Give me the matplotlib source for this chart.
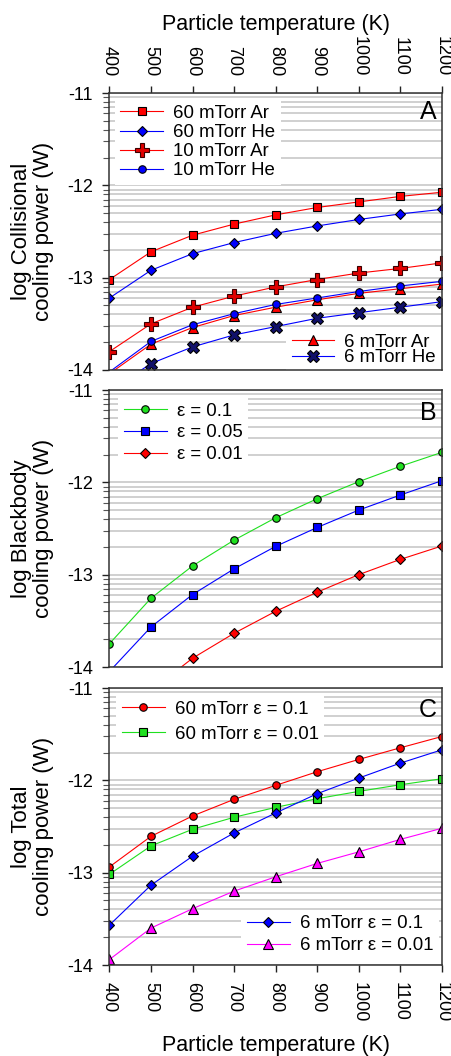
import numpy as np
import matplotlib
matplotlib.use("Agg")
import matplotlib.pyplot as plt
from matplotlib.ticker import FixedLocator, NullFormatter

plt.rcParams['font.family'] = ['Liberation Sans', 'DejaVu Sans']

# Particle temperature (K)
temperature = [400, 500, 600, 700, 800, 900, 1000, 1100, 1200]
temp_ticks = [400, 500, 600, 700, 800, 900, 1000, 1100, 1200]
power_ticks = [-14, -13, -12, -11]

# log10 collisional cooling power (W)
coll_60_ar = [-13.02, -12.72, -12.54, -12.42, -12.32, -12.24, -12.18, -12.12, -12.075]
coll_60_he = [-13.22, -12.92, -12.74, -12.62, -12.52, -12.44, -12.37, -12.31, -12.26]
coll_10_ar = [-13.80, -13.50, -13.32, -13.20, -13.10, -13.02, -12.95, -12.90, -12.84]
coll_10_he = [-14.02, -13.69, -13.51, -13.39, -13.29, -13.22, -13.15, -13.09, -13.04]
coll_6_ar = [-14.04, -13.72, -13.54, -13.41, -13.32, -13.24, -13.17, -13.12, -13.07]
coll_6_he = [-14.23, -13.93, -13.75, -13.62, -13.53, -13.44, -13.38, -13.32, -13.26]

# log10 blackbody cooling power (W)
bb_eps_010 = [-13.747, -13.255, -12.905, -12.626, -12.384, -12.178, -11.993, -11.827, -11.676]
bb_eps_005 = [-14.048, -13.566, -13.215, -12.937, -12.694, -12.489, -12.301, -12.138, -11.983]
bb_eps_001 = [-14.747, -14.255, -13.905, -13.635, -13.397, -13.190, -13.000, -12.835, -12.690]

# log10 total cooling power (W)
tot_60_eps_010 = [-12.937, -12.606, -12.386, -12.206, -12.055, -11.907, -11.774, -11.648, -11.526]
tot_60_eps_001 = [-13.017, -12.710, -12.530, -12.400, -12.293, -12.199, -12.120, -12.048, -11.983]
tot_6_eps_010 = [-13.567, -13.135, -12.822, -12.570, -12.354, -12.145, -11.976, -11.814, -11.670]
tot_6_eps_001 = [-13.940, -13.600, -13.390, -13.200, -13.045, -12.900, -12.775, -12.640, -12.520]

YMIN, YMAX = -14, -11
RED, BLUE, GREEN, MAGENTA = '#ff0000', '#0000ff', '#1fe01f', '#ff00ff'
LEGEND_FS = 13.4

fig = plt.figure(figsize=(4.52, 10.56), dpi=100)
W, H = 452.0, 1056.0
left_px, right_px = 109.5, 441.7
panels_px = [(93, 370), (390, 667), (688, 965)]
axes = []
for top, bot in panels_px:
    ax = fig.add_axes([left_px / W, 1 - bot / H, (right_px - left_px) / W, (bot - top) / H])
    axes.append(ax)

minor_pos = [d + np.log10(k) for d in range(-14, -11) for k in range(2, 10)]


def style_axis(ax, ylabel, letter, letter_y, top_ticks=False, bottom_ticks=False):
    ax.set_xlim(400, 1200)
    ax.set_ylim(YMIN, YMAX)
    ax.set_axisbelow(True)
    ax.yaxis.set_major_locator(FixedLocator(power_ticks))
    ax.yaxis.set_minor_locator(FixedLocator(minor_pos))
    ax.yaxis.set_minor_formatter(NullFormatter())
    ax.set_yticklabels([str(v) for v in power_ticks])
    ax.grid(True, which='both', axis='y', color='#cdcdcd', lw=1.3)
    ax.tick_params(axis='y', which='major', direction='out', length=5, width=1.0,
                   labelsize=13, pad=7, colors='#222222', labelcolor='black')
    ax.tick_params(axis='y', which='minor', direction='out', length=4, width=0.8,
                   colors='#555555')
    ax.xaxis.set_major_locator(FixedLocator(temp_ticks))
    ax.tick_params(axis='x', which='both', top=top_ticks, labeltop=top_ticks,
                   bottom=bottom_ticks, labelbottom=bottom_ticks,
                   direction='out', length=5, width=1.0, labelsize=13,
                   labelrotation=-90, pad=7, colors='#222222', labelcolor='black')
    ax.xaxis.set_minor_locator(FixedLocator([]))
    for s in ax.spines.values():
        s.set_color('#333333')
        s.set_linewidth(1.1)
    ax.text(-0.232, 0.5, ylabel, transform=ax.transAxes, rotation=90,
            ha='center', va='center', fontsize=16, linespacing=1.1,
            multialignment='center')
    ax.text(0.986, letter_y, letter, transform=ax.transAxes, ha='right',
            va='baseline', fontsize=18)


def series(ax, y, color, marker, ms, face=None, edge='black', label=None):
    shown = [i for i, v in enumerate(y) if v > YMIN]
    ax.plot(temperature, y, color=color, lw=0.8, marker=marker, ms=ms,
            mfc=face if face else color, mec=edge, mew=0.8,
            markevery=shown, label=label, zorder=2)


def make_legend(ax, handles, labels, loc, anchor, spacing):
    leg = ax.legend(handles, labels, loc=loc, bbox_to_anchor=anchor,
                    borderaxespad=0, borderpad=0.3, fontsize=LEGEND_FS,
                    handlelength=2.3, handletextpad=0.54, labelspacing=spacing,
                    frameon=True, fancybox=False, framealpha=1,
                    facecolor='white', edgecolor='none')
    leg.set_zorder(2.3)
    return leg


# Panel A: collisional cooling
ax = axes[0]
style_axis(ax, 'log Collisional\ncooling power (W)', 'A', 0.905, top_ticks=True)
series(ax, coll_6_ar, RED, '^', 6.5, label='6 mTorr Ar')
series(ax, coll_6_he, BLUE, 'X', 9.0, face='#10106a', edge='black', label='6 mTorr He')
series(ax, coll_60_ar, RED, 's', 5.5, label='60 mTorr Ar')
series(ax, coll_60_he, BLUE, 'D', 4.8, label='60 mTorr He')
series(ax, coll_10_ar, RED, 'P', 9.4, face='#e00000', edge='#3a0000', label='10 mTorr Ar')
series(ax, coll_10_he, BLUE, 'o', 5.4, label='10 mTorr He')
h, l = ax.get_legend_handles_labels()
hd = dict(zip(l, h))
top_keys = ['60 mTorr Ar', '60 mTorr He', '10 mTorr Ar', '10 mTorr He']
bot_keys = ['6 mTorr Ar', '6 mTorr He']
leg1 = make_legend(ax, [hd[k] for k in top_keys], top_keys, 'upper left', (0.0154, 0.977), 0.11)
ax.add_artist(leg1)
make_legend(ax, [hd[k] for k in bot_keys], bot_keys, 'lower right', (1.0, -0.007), -0.065)
ax.xaxis.set_label_position('top')
ax.set_xlabel('Particle temperature (K)', fontsize=15.5, labelpad=4)

# Panel B: blackbody cooling
ax = axes[1]
style_axis(ax, 'log Blackbody\ncooling power (W)', 'B', 0.893)
series(ax, bb_eps_010, GREEN, 'o', 5.4, label='ε = 0.1')
series(ax, bb_eps_005, BLUE, 's', 5.5, label='ε = 0.05')
series(ax, bb_eps_001, RED, 'D', 4.8, label='ε = 0.01')
h, l = ax.get_legend_handles_labels()
make_legend(ax, h, l, 'upper left', (0.027, 0.974), 0.25)

# Panel C: total cooling
ax = axes[2]
style_axis(ax, 'log Total\ncooling power (W)', 'C', 0.897, bottom_ticks=True)
series(ax, tot_60_eps_010, RED, 'o', 5.4, label='60 mTorr ε = 0.1')
series(ax, tot_60_eps_001, GREEN, 's', 5.5, label='60 mTorr ε = 0.01')
series(ax, tot_6_eps_010, BLUE, 'D', 4.8, label='6 mTorr ε = 0.1')
series(ax, tot_6_eps_001, MAGENTA, '^', 6.5, label='6 mTorr ε = 0.01')
h, l = ax.get_legend_handles_labels()
legc = make_legend(ax, h[:2], l[:2], 'upper left', (0.021, 0.9745), 0.435)
ax.add_artist(legc)
make_legend(ax, h[2:], l[2:], 'lower right', (0.991, 0.019), 0.26)
ax.set_xlabel('Particle temperature (K)', fontsize=15.5, labelpad=9.5)

fig.savefig('out.png', dpi=100)
